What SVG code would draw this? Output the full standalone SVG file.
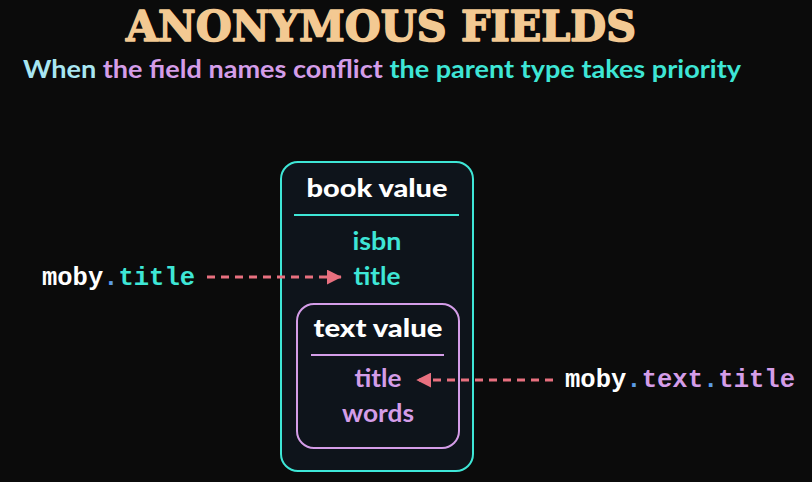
<svg xmlns="http://www.w3.org/2000/svg" width="812" height="482" viewBox="0 0 812 482">
<defs>
<style>
.title{font-family:"DejaVu Serif","Liberation Serif",serif;font-weight:bold;font-size:42px;fill:#f3c992;stroke:#f3c992;stroke-width:1.6px;stroke-linejoin:round}
.sub{font-family:Lato,"Open Sans",sans-serif;font-weight:bold;font-size:25px}
.hdr{font-family:Lato,"Open Sans",sans-serif;font-weight:900;font-size:24px;fill:#ffffff;text-anchor:middle}
.fld{font-family:Lato,"Open Sans",sans-serif;font-weight:bold;font-size:25px;text-anchor:middle}
.mono{font-family:"Liberation Mono","DejaVu Sans Mono",monospace;font-weight:bold;font-size:25.5px;stroke-width:0.4px}
.cyan{fill:#3ee6d6}
.lav{fill:#d49de8}
.wht{fill:#ffffff}
.dot{fill:#5b9ce6}
.conn{stroke:#e8707f;stroke-width:3;stroke-dasharray:8 6;fill:none}
</style>
<marker id="ah" viewBox="0 0 10 10" refX="9.5" refY="5" markerWidth="5" markerHeight="5" orient="auto" markerUnits="strokeWidth">
<path d="M0,0 L10,5 L0,10 z" fill="#e8707f"/>
</marker>
</defs>
<rect width="812" height="482" fill="#0b0b0b"/>
<text class="title" x="381" y="41" text-anchor="middle" textLength="510" lengthAdjust="spacingAndGlyphs">ANONYMOUS FIELDS</text>
<text class="sub" x="23" y="78" textLength="718" lengthAdjust="spacingAndGlyphs"><tspan fill="#a8e6f2">When </tspan><tspan fill="#d49de8">the field names conflict </tspan><tspan fill="#3ee6d6">the parent type takes priority</tspan></text>
<g id="book">
<rect x="281" y="162" width="192" height="309" rx="17" fill="#0e141b" stroke="#3ee6d6" stroke-width="2"/>
<text class="hdr" x="377" y="197" textLength="141" lengthAdjust="spacingAndGlyphs">book value</text>
<line x1="294" y1="215" x2="459" y2="215" stroke="#3ee6d6" stroke-width="2"/>
<text class="fld cyan" x="377" y="250" textLength="49" lengthAdjust="spacingAndGlyphs">isbn</text>
<text class="fld cyan" x="377" y="285" textLength="47" lengthAdjust="spacingAndGlyphs">title</text>
</g>
<g id="text">
<rect x="297" y="304" width="162" height="144" rx="17" fill="#0e141b" stroke="#d49de8" stroke-width="2"/>
<text class="hdr" x="378" y="337" textLength="129" lengthAdjust="spacingAndGlyphs">text value</text>
<line x1="311" y1="355" x2="444" y2="355" stroke="#d49de8" stroke-width="2"/>
<text class="fld lav" x="378" y="387" textLength="47" lengthAdjust="spacingAndGlyphs">title</text>
<text class="fld lav" x="378" y="422" textLength="72" lengthAdjust="spacingAndGlyphs">words</text>
</g>
<g id="label-moby-title">
<text class="mono" x="42" y="285" textLength="153" lengthAdjust="spacingAndGlyphs"><tspan class="wht">moby</tspan><tspan class="dot">.</tspan><tspan class="cyan">title</tspan></text>
</g>
<g id="label-moby-text-title">
<text class="mono" x="565" y="387" textLength="230" lengthAdjust="spacingAndGlyphs"><tspan class="wht">moby</tspan><tspan class="dot">.</tspan><tspan class="lav">text</tspan><tspan class="dot">.</tspan><tspan class="lav">title</tspan></text>
</g>
<g id="connectors">
<line class="conn" x1="207" y1="277" x2="341" y2="277" marker-end="url(#ah)"/>
<line class="conn" x1="553" y1="380" x2="417" y2="380" marker-end="url(#ah)"/>
</g>
</svg>
